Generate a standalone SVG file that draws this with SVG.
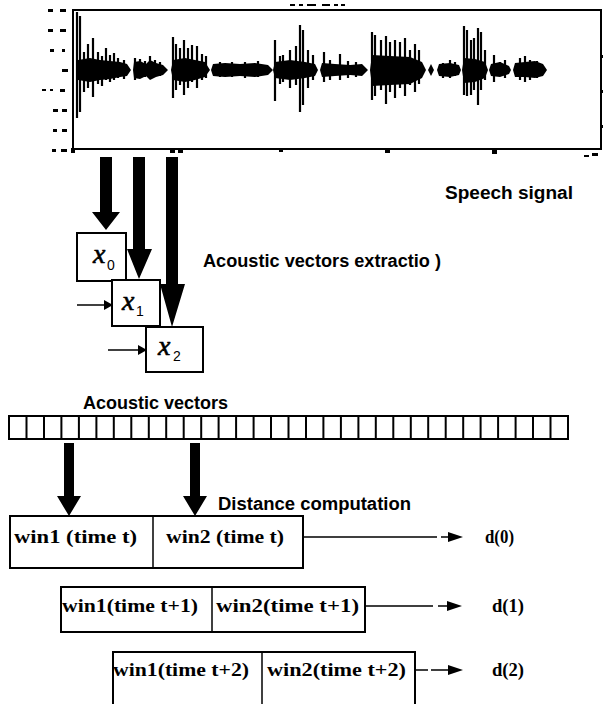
<svg xmlns="http://www.w3.org/2000/svg" width="606" height="704" viewBox="0 0 606 704">
<style>
.bg{fill:#fff}
.frame{fill:none;stroke:#000;stroke-width:2}
.box{fill:#fff;stroke:#000;stroke-width:2}
.thin{fill:none;stroke:#000;stroke-width:1.5}
.blk{fill:#000}
.spk{stroke:#000;stroke-width:2.2;fill:none}
.lbl{font-family:"Liberation Sans",Arial,sans-serif;font-weight:bold;font-size:18px;fill:#000}
.win{font-family:"Liberation Serif","Times New Roman",serif;font-weight:bold;font-size:18px;fill:#000}
.var{font-family:"Liberation Serif","Times New Roman",serif;font-style:italic;font-size:28px;fill:#000;stroke:#000;stroke-width:0.6}
.sub{font-family:"Liberation Sans",Arial,sans-serif;font-size:14px;fill:#000}
</style>
<rect class="bg" x="0" y="0" width="606" height="704"/>

<g id="speech-plot">
  <path class="frame" d="M73,10 H601 V149 H73 Z"/>
  <g class="blk">
    <rect x="48" y="9" width="5" height="3"/><rect x="60" y="9" width="6" height="3"/>
    <rect x="48" y="29" width="5" height="3"/><rect x="60" y="29" width="6" height="3"/>
    <rect x="50" y="49" width="4" height="3"/><rect x="62" y="49" width="3" height="3"/>
    <rect x="62" y="69" width="6" height="3"/>
    <rect x="42" y="89" width="4" height="2"/><rect x="50" y="89" width="3" height="2"/><rect x="60" y="89" width="5" height="3"/>
    <rect x="53" y="109" width="5" height="3"/><rect x="62" y="109" width="5" height="3"/>
    <rect x="53" y="129" width="4" height="3"/><rect x="62" y="129" width="5" height="3"/>
    <rect x="52" y="149" width="4" height="3"/><rect x="61" y="149" width="6" height="3"/>
    <rect x="71" y="148" width="4" height="5"/>
    <rect x="170" y="148" width="5" height="5"/><rect x="178" y="148" width="5" height="5"/>
    <rect x="279" y="148" width="4" height="4"/>
    <rect x="385" y="148" width="5" height="5"/>
    <rect x="492" y="148" width="5" height="6"/>
    <rect x="584" y="155" width="5" height="2"/><rect x="592" y="153" width="6" height="3"/>
    <rect x="290" y="4" width="5" height="2"/><rect x="299" y="4" width="4" height="2"/><rect x="307" y="4" width="9" height="2"/>
    <rect x="322" y="4" width="8" height="2"/><rect x="334" y="4" width="4" height="2"/><rect x="341" y="4" width="4" height="2"/>
    <rect x="600" y="55" width="3" height="3"/><rect x="600" y="90" width="3" height="3"/><rect x="600" y="125" width="3" height="3"/>
  </g>
  <g id="waveform">
    <path class="blk" d="M76,70 L78,60 L90,58 L100,60 L110,61 L120,62 L127,64 L131,70 L127,76 L120,77 L110,79 L100,80 L90,82 L78,80 Z
      M133,70 L134,62 L140,61 L146,64 L150,60 L156,63 L163,65 L168,70 L163,75 L156,77 L150,80 L146,76 L140,79 L134,78 Z
      M171,70 L173,60 L185,58 L195,60 L205,62 L210,70 L205,77 L195,80 L185,82 L173,80 Z
      M211,70 L213,64 L225,63 L240,64 L255,63 L268,65 L273,70 L268,75 L255,77 L240,76 L225,77 L213,76 Z
      M273,70 L275,62 L290,60 L305,62 L315,64 L318,70 L315,76 L305,78 L290,80 L275,78 Z
      M320,70 L322,63 L335,64 L350,65 L362,64 L368,70 L362,76 L350,75 L335,76 L322,77 Z
      M370,70 L372,55 L390,56 L410,57 L422,62 L426,70 L422,78 L410,84 L390,85 L372,86 Z
      M428,70 L431,64 L434,70 L431,76 Z
      M437,70 L439,64 L450,63 L459,65 L461,70 L459,75 L450,77 L439,76 Z
      M462,70 L464,58 L475,59 L485,62 L488,70 L485,78 L475,82 L464,83 Z
      M489,70 L491,64 L500,62 L509,66 L511,70 L509,74 L500,77 L491,76 Z
      M513,70 L515,63 L525,62 L535,61 L543,64 L547,70 L543,76 L535,78 L525,77 L515,77 Z"/>
    <path class="spk" d="M77,12 V118 M80,16 V112 M84,52 V92 M88,44 V88 M93,38 V97 M98,52 V84 M102,56 V86 M106,48 V80 M110,55 V82 M114,53 V80 M118,58 V78 M124,60 V79
      M135,58 V80 M140,59 V78 M145,61 V77 M150,56 V78 M155,60 V76 M160,62 V76
      M173,37 V98 M176,44 V90 M180,48 V85 M184,40 V95 M188,48 V88 M192,45 V82 M197,46 V88 M202,54 V80 M206,56 V78
      M220,62 V77 M232,62 V77 M245,62 V78 M258,61 V77
      M275,40 V101 M280,56 V84 M283,55 V82 M290,50 V88 M296,46 V85 M300,25 V112 M303,30 V105 M308,50 V88 M313,55 V80
      M324,52 V82 M330,60 V80 M340,54 V80 M348,61 V78 M356,62 V77
      M372,32 V100 M375,35 V96 M381,40 V90 M386,36 V104 M390,42 V92 M395,40 V98 M400,42 V88 M405,38 V96 M410,50 V85 M415,44 V92 M419,50 V84
      M443,63 V78 M450,60 V78 M455,62 V76
      M464,26 V95 M467,30 V96 M471,40 V95 M474,38 V90 M478,28 V105 M481,32 V90 M485,50 V80
      M494,55 V82 M500,62 V76 M505,60 V78
      M520,58 V80 M525,56 V82 M530,60 V80 M537,61 V78"/>
  </g>
</g>

<g id="labels">
  <text class="lbl" x="445" y="199" textLength="128" lengthAdjust="spacingAndGlyphs">Speech signal</text>
  <text class="lbl" x="203" y="267" textLength="238" lengthAdjust="spacingAndGlyphs">Acoustic vectors extractio )</text>
  <text class="lbl" x="83" y="409" textLength="145" lengthAdjust="spacingAndGlyphs">Acoustic vectors</text>
  <text class="lbl" x="218" y="510" textLength="193" lengthAdjust="spacingAndGlyphs">Distance computation</text>
</g>

<g id="node-x0">
  <rect class="box" x="77" y="233" width="49" height="48"/>
  <text class="var" x="93" y="263">x</text><text class="sub" x="107" y="270">0</text>
</g>
<g id="node-x1">
  <rect class="box" x="112" y="280" width="48" height="46"/>
  <text class="var" x="122" y="310">x</text><text class="sub" x="136" y="316">1</text>
</g>
<g id="node-x2">
  <rect class="box" x="146" y="327" width="57" height="45"/>
  <text class="var" x="158" y="355">x</text><text class="sub" x="173" y="361">2</text>
</g>

<g id="node-vectors">
  <rect class="box" x="9" y="416" width="559" height="23"/>
  <path class="frame" d="M26.5,416V439 M44,416V439 M61.4,416V439 M78.9,416V439 M96.4,416V439 M113.8,416V439 M131.3,416V439 M148.8,416V439 M166.2,416V439 M183.7,416V439 M201.2,416V439 M218.6,416V439 M236.1,416V439 M253.6,416V439 M271,416V439 M288.5,416V439 M306,416V439 M323.4,416V439 M340.9,416V439 M358.4,416V439 M375.8,416V439 M393.3,416V439 M410.8,416V439 M428.2,416V439 M445.7,416V439 M463.2,416V439 M480.6,416V439 M498.1,416V439 M515.6,416V439 M533,416V439 M550.5,416V439"/>
</g>

<g id="node-row0">
  <rect class="box" x="10" y="516" width="293" height="52"/>
  <line class="thin" x1="153" y1="516" x2="153" y2="568"/>
  <text class="win" x="14" y="543" textLength="123" lengthAdjust="spacingAndGlyphs">win1 (time t)</text>
  <text class="win" x="166" y="543" textLength="118" lengthAdjust="spacingAndGlyphs">win2 (time t)</text>
</g>
<g id="node-row1">
  <rect class="box" x="61" y="587" width="304" height="45"/>
  <line class="thin" x1="212" y1="587" x2="212" y2="632"/>
  <text class="win" x="62" y="612" textLength="136" lengthAdjust="spacingAndGlyphs">win1(time t+1)</text>
  <text class="win" x="216" y="612" textLength="143" lengthAdjust="spacingAndGlyphs">win2(time t+1)</text>
</g>
<g id="node-row2">
  <rect class="box" x="113" y="652" width="302" height="56"/>
  <line class="thin" x1="262" y1="652" x2="262" y2="708"/>
  <text class="win" x="113" y="676" textLength="136" lengthAdjust="spacingAndGlyphs">win1(time t+2)</text>
  <text class="win" x="267" y="676" textLength="139" lengthAdjust="spacingAndGlyphs">win2(time t+2)</text>
</g>

<g id="node-d0"><text class="win" x="485" y="543" textLength="29" lengthAdjust="spacingAndGlyphs">d(0)</text></g>
<g id="node-d1"><text class="win" x="492" y="612" textLength="32" lengthAdjust="spacingAndGlyphs">d(1)</text></g>
<g id="node-d2"><text class="win" x="492" y="676" textLength="32" lengthAdjust="spacingAndGlyphs">d(2)</text></g>

<g id="connectors">
  <polygon class="blk" points="100,157 112,157 112,212 120,212 106,230 92,212 100,212"/>
  <polygon class="blk" points="133,157 145,157 145,249 152,249 139,279 127,249 133,249"/>
  <polygon class="blk" points="166,157 178,157 178,284 185,284 172,327 160,284 166,284"/>
  <line class="thin" x1="77" y1="305" x2="105" y2="305"/>
  <polygon class="blk" points="104,300 113,305 104,310"/>
  <line class="thin" x1="108" y1="350" x2="139" y2="350"/>
  <polygon class="blk" points="138,345 147,350 138,355"/>
  <polygon class="blk" points="64,443 74,443 74,496 81,496 69,516 57,496 64,496"/>
  <polygon class="blk" points="190,443 200,443 200,496 207,496 195,516 183,496 190,496"/>
  <path class="thin" d="M303,537 H437 M441,537 H449 M365,606 H433 M438,606 H447 M415,670 H428 M431,670 H448"/>
  <polygon class="blk" points="448,532 463,537 448,542"/>
  <polygon class="blk" points="447,601 462,606 447,611"/>
  <polygon class="blk" points="448,665 463,670 448,675"/>
</g>
</svg>
